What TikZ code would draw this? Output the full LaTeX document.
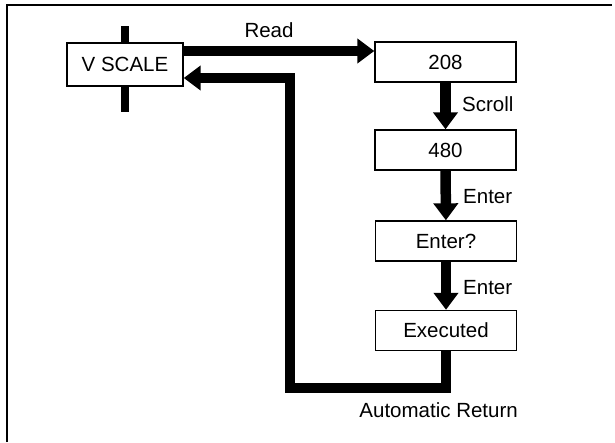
\documentclass[tikz,border=0pt]{standalone}
\usepackage{fontspec}
\setmainfont{Liberation Sans}
\usetikzlibrary{arrows.meta}

\begin{document}
\begin{tikzpicture}[
  x=1pt, y=-1pt,
  font=\fontsize{20.5}{24}\selectfont,
  box/.style={draw, line width=1.4pt, rectangle, minimum width=141pt, minimum height=40pt, inner sep=0pt, align=center, fill=white},
  lbl/.style={inner sep=0pt},
  fat/.style={line width=10.5pt, -{Triangle[length=17pt, width=24pt]}},
  bar/.style={line width=8pt},
  frame/.style={line width=1.5pt}
]
\useasboundingbox (0,0) rectangle (615,442);
\draw[frame] (7,442) -- (7,5) -- (612,5);

\draw[bar] (125,26) -- (125,112);
\node[box, minimum width=116pt, minimum height=43pt] (vscale) at (125,64.5) {V SCALE};
\node[box] (n208) at (445.5,62) {208};
\node[box] (n480) at (445.5,150) {480};
\node[box] (enterq) at (446,241) {Enter?};
\node[box] (executed) at (446,330.5) {Executed};
\coordinate (retcorner) at (290,388);

\draw[fat] ([yshift=13.5pt]vscale.east) -- ([yshift=13.5pt]vscale.east -| n208.west);
\draw[fat] (n208) -- (n480);
\draw[fat] (n480) -- (enterq);
\draw[fat] (enterq) -- (executed);
\draw[fat] (executed.south) |- (retcorner) |- ([yshift=-13.5pt]vscale.east);

\node[lbl] (readlbl) at (269,30.5) {Read};
\node[lbl, anchor=west] (scrolllbl) at (462,104.5) {Scroll};
\node[lbl, anchor=west] (enterlbl) at (463,196.5) {Enter};
\node[lbl, anchor=west] (enterlblb) at (463,287.5) {Enter};
\node[lbl, anchor=east] (autoret) at (518,410) {Automatic Return};
\end{tikzpicture}
\end{document}
